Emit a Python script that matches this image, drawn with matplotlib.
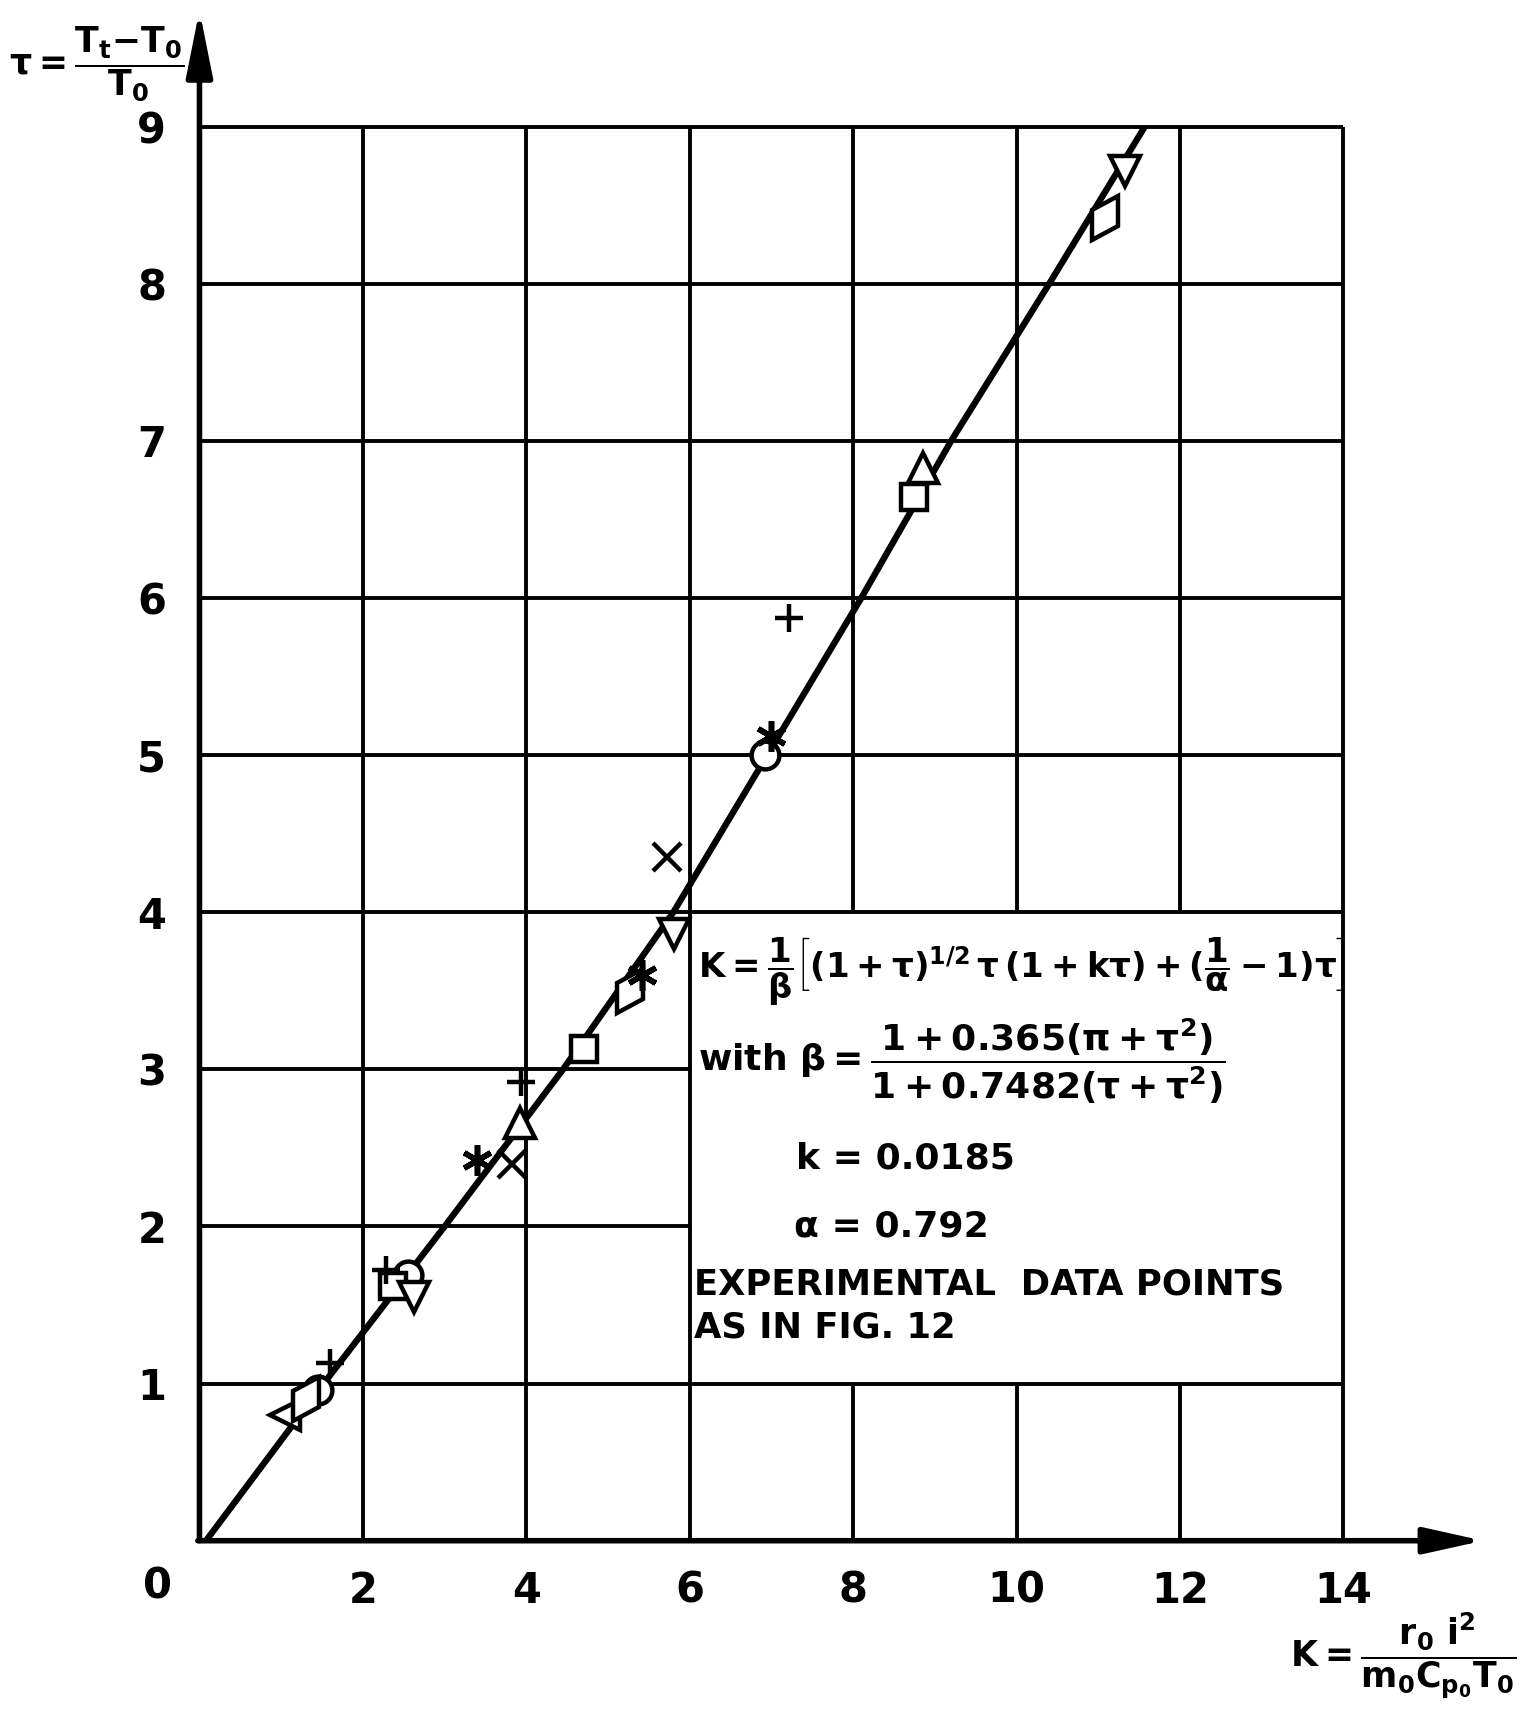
import numpy as np
import matplotlib
matplotlib.use("Agg")
import matplotlib.pyplot as plt
from matplotlib.markers import MarkerStyle
from matplotlib.transforms import Affine2D

plt.rcParams["font.family"] = ["DejaVu Sans"]
plt.rcParams["font.weight"] = "bold"
plt.rcParams["mathtext.fontset"] = "custom"
plt.rcParams["mathtext.rm"] = "DejaVu Sans:bold"
plt.rcParams["mathtext.it"] = "DejaVu Sans:bold:italic"
plt.rcParams["mathtext.bf"] = "DejaVu Sans:bold"
plt.rcParams["mathtext.sf"] = "DejaVu Sans:bold"
plt.rcParams["mathtext.default"] = "rm"

# curve: kappa at tau = 0..9
curve_tau = [0, 1, 2, 3, 4, 5, 6, 7, 8, 9]
curve_kappa = [0.08, 1.52, 3.0, 4.45, 5.8, 6.95, 8.1, 9.2, 10.4, 11.57]

# experimental points, grouped by symbol
circ_k = [1.45, 2.55, 6.92]
circ_t = [0.96, 1.69, 5.0]
sq_k = [2.37, 4.70, 8.75]
sq_t = [1.62, 3.13, 6.64]
triup_k = [3.92, 8.86]
triup_t = [2.66, 6.83]
tridn_k = [2.62, 5.81, 11.33]
tridn_t = [1.55, 3.86, 8.72]
trilt_k = [1.05]
trilt_t = [0.80]
dia_k = [1.30, 5.27, 11.08]
dia_t = [0.90, 3.50, 8.42]
ast_k = [3.40, 5.42, 7.0]
ast_t = [2.42, 3.60, 5.12]
cross_k = [3.82, 5.72]
cross_t = [2.40, 4.35]
plus_k = [1.60, 2.28, 3.93, 7.22]
plus_t = [1.13, 1.72, 2.92, 5.87]

x_ticks = [2, 4, 6, 8, 10, 12, 14]
y_ticks = [1, 2, 3, 4, 5, 6, 7, 8, 9]

fig = plt.figure(figsize=(15.32, 17.10), dpi=100)
ax = fig.add_axes([0.1302, 0.0990, 0.7467, 0.8270])
ax.set_xlim(0, 14)
ax.set_ylim(0, 9)
for s in ax.spines.values():
    s.set_visible(False)

# grid, left open where the formula panel sits (x 6..14, tau 1..4)
gl = dict(color="k", lw=2.8, zorder=1, solid_capstyle="butt", clip_on=False)
for xv in x_ticks:
    if 6 < xv < 14:
        ax.plot([xv, xv], [0, 1], **gl)
        ax.plot([xv, xv], [4, 9], **gl)
    else:
        ax.plot([xv, xv], [0, 9], **gl)
for yv in y_ticks:
    if 1 < yv < 4:
        ax.plot([0, 6], [yv, yv], **gl)
    else:
        ax.plot([0, 14], [yv, yv], **gl)

# axes with arrows
ax.annotate("", xy=(0, 9.74), xytext=(0, 0), annotation_clip=False,
            arrowprops=dict(arrowstyle="-|>,head_length=2.0,head_width=0.4", mutation_scale=20,
                            lw=4, color="k", shrinkA=0, shrinkB=0), zorder=3)
ax.annotate("", xy=(15.71, 0), xytext=(-0.02, 0), annotation_clip=False,
            arrowprops=dict(arrowstyle="-|>,head_length=1.8,head_width=0.4", mutation_scale=20,
                            lw=4, color="k", shrinkA=0, shrinkB=0), zorder=3)

ax.plot(curve_kappa, curve_tau, color="k", lw=4.6, zorder=4, solid_capstyle="round")

mk = dict(color="k", markerfacecolor="white", markeredgecolor="k", markeredgewidth=3.2, ls="none", zorder=5)
ax.plot(circ_k, circ_t, marker="o", markersize=20, **mk)
ax.plot(sq_k, sq_t, marker="s", markersize=19, **mk)
ax.plot(triup_k, triup_t, marker="^", markersize=21, **mk)
ax.plot(tridn_k, tridn_t, marker="v", markersize=21, **mk)
ax.plot(trilt_k, trilt_t, marker="<", markersize=21, **mk)
ax.plot(dia_k, dia_t, marker=MarkerStyle("d", transform=Affine2D().rotate_deg(-30)), markersize=26, **mk)
ax.plot(ast_k, ast_t, marker=(6, 2, 0), markersize=22, color="k", markeredgewidth=4, ls="none", zorder=5)
ax.plot(cross_k, cross_t, marker="x", markersize=20, **mk)
ax.plot(plus_k, plus_t, marker="+", markersize=20, **mk)

# tick labels
ax.set_xticks(x_ticks)
ax.set_xticklabels([str(v) for v in x_ticks], fontsize=30, fontweight="bold")
ax.set_yticks(y_ticks)
ax.set_yticklabels([str(v) for v in y_ticks], fontsize=30, fontweight="bold")
ax.tick_params(axis="both", length=0)
ax.tick_params(axis="x", pad=21)
ax.tick_params(axis="y", pad=24)
ax.text(-0.51, -0.29, "0", fontsize=30, fontweight="bold", ha="center", va="center")

# formula block
ax.text(6.1, 3.62, r"$K = \dfrac{1}{\beta}\left[(1+\tau)^{1/2}\,\tau\,(1+k\tau)+(\dfrac{1}{\alpha}-1)\tau\right]$",
        fontsize=24.5, ha="left", va="center", zorder=6)
ax.text(6.1, 3.05, r"with $\beta = \dfrac{1+0.365(\pi+\tau^2)}{1+0.7482(\tau+\tau^2)}$",
        fontsize=26, ha="left", va="center", zorder=6)
ax.text(7.3, 2.43, "k = 0.0185", fontsize=26, ha="left", va="center", zorder=6)
ax.text(7.27, 2.0, "α = 0.792", fontsize=26, ha="left", va="center", zorder=6)
ax.text(6.05, 1.63, "EXPERIMENTAL  DATA POINTS", fontsize=25.5, ha="left", va="center", zorder=6)
ax.text(6.05, 1.36, "AS IN FIG. 12", fontsize=25.5, ha="left", va="center", zorder=6)

# axis titles
fig.text(0.006, 0.963, r"$\tau = \dfrac{T_t{-}T_0}{T_0}$", fontsize=25, ha="left", va="center")
fig.text(0.842, 0.032, r"$K = \dfrac{r_0\ i^2}{m_0 C_{p_0} T_0}$", fontsize=25, ha="left", va="center")

fig.savefig("out.png", dpi=100)
